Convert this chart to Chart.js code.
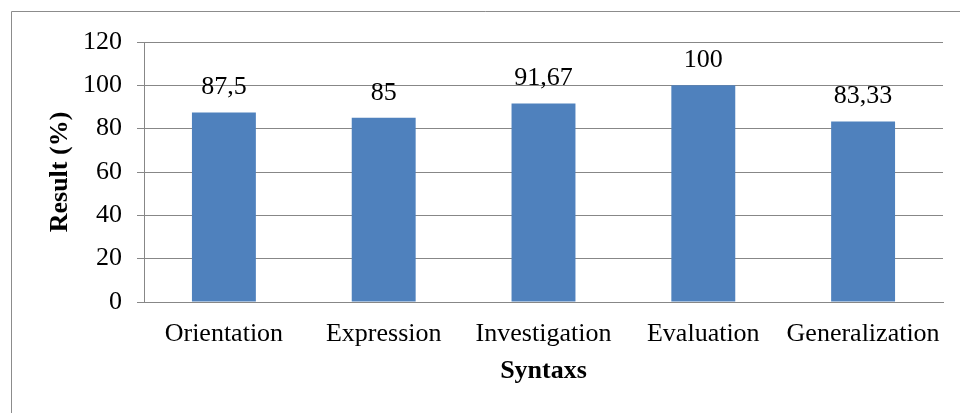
<!DOCTYPE html>
<html>
<head>
<meta charset="utf-8">
<title>Syntaxs results</title>
<script src="https://cdn.jsdelivr.net/npm/chart.js@4/dist/chart.umd.min.js"></script>
<style>
  html, body { margin: 0; padding: 0; background: #ffffff; }
  #wrap { position: relative; width: 960px; height: 413px; }
</style>
</head>
<body>
<div id="wrap"><canvas id="chart"></canvas></div>
<script>
// Categories and results (%)
const categories = ['Orientation', 'Expression', 'Investigation', 'Evaluation', 'Generalization'];
const results = [87.5, 85, 91.67, 100, 83.33];
const yTicks = [0, 20, 40, 60, 80, 100, 120];

const SERIF = '"Liberation Serif", "Times New Roman", Times, serif';
const GRID = '#878787';
const BAR = '#4F81BD';

// Decimal comma formatting for the value labels
function fmt(v) { return String(v).replace('.', ','); }

// Frame line around the chart (left and top edges visible)
const framePlugin = {
  id: 'frame',
  beforeDraw(chart) {
    const ctx = chart.ctx;
    ctx.save();
    ctx.fillStyle = '#ffffff';
    ctx.fillRect(0, 0, chart.width, chart.height);
    ctx.strokeStyle = '#8c8c8c';
    ctx.lineWidth = 1;
    ctx.beginPath();
    ctx.moveTo(11.5, chart.height);
    ctx.lineTo(11.5, 11.5);
    ctx.lineTo(chart.width, 11.5);
    ctx.stroke();
    ctx.restore();
  }
};

// Value labels above each bar
const valueLabels = {
  id: 'valueLabels',
  afterDatasetsDraw(chart) {
    const ctx = chart.ctx;
    const meta = chart.getDatasetMeta(0);
    const data = chart.data.datasets[0].data;
    ctx.save();
    ctx.font = '26px ' + SERIF;
    ctx.fillStyle = '#000000';
    ctx.textAlign = 'center';
    ctx.textBaseline = 'alphabetic';
    meta.data.forEach((bar, i) => {
      ctx.fillText(fmt(data[i]), bar.x, bar.y - 18);
    });
    ctx.restore();
  }
};

new Chart(document.getElementById('chart'), {
  type: 'bar',
  data: {
    labels: categories,
    datasets: [{
      data: results,
      backgroundColor: BAR,
      borderWidth: 0,
      categoryPercentage: 1.0,
      barPercentage: 0.4
    }]
  },
  options: {
    responsive: true,
    maintainAspectRatio: false,
    animation: false,
    devicePixelRatio: 1,
    layout: { padding: { top: 42, right: 17, bottom: 0, left: 0 } },
    plugins: {
      legend: { display: false },
      tooltip: { enabled: false }
    },
    scales: {
      x: {
        grid: { display: false, drawTicks: false },
        border: { display: true, color: GRID, width: 1 },
        ticks: {
          color: '#000000',
          font: { family: SERIF, size: 26 },
          padding: 17,
          maxRotation: 0,
          autoSkip: false
        },
        title: {
          display: true,
          text: 'Syntaxs',
          color: '#000000',
          font: { family: SERIF, size: 26, weight: 'bold' },
          padding: { top: 0, bottom: 26 }
        },
        afterFit(scale) { scale.height = 111; }
      },
      y: {
        min: 0,
        max: 120,
        afterBuildTicks(scale) { scale.ticks = yTicks.map(v => ({ value: v })); },
        grid: { color: GRID, lineWidth: 1, drawTicks: true, tickLength: 7 },
        border: { display: true, color: GRID, width: 1 },
        ticks: {
          color: '#000000',
          font: { family: SERIF, size: 26 },
          padding: 15
        },
        title: {
          display: true,
          text: 'Result (%)',
          color: '#000000',
          font: { family: SERIF, size: 26, weight: 'bold' },
          padding: { top: 45, bottom: 0 }
        },
        afterFit(scale) { scale.width = 144; }
      }
    }
  },
  plugins: [framePlugin, valueLabels]
});
</script>
</body>
</html>
